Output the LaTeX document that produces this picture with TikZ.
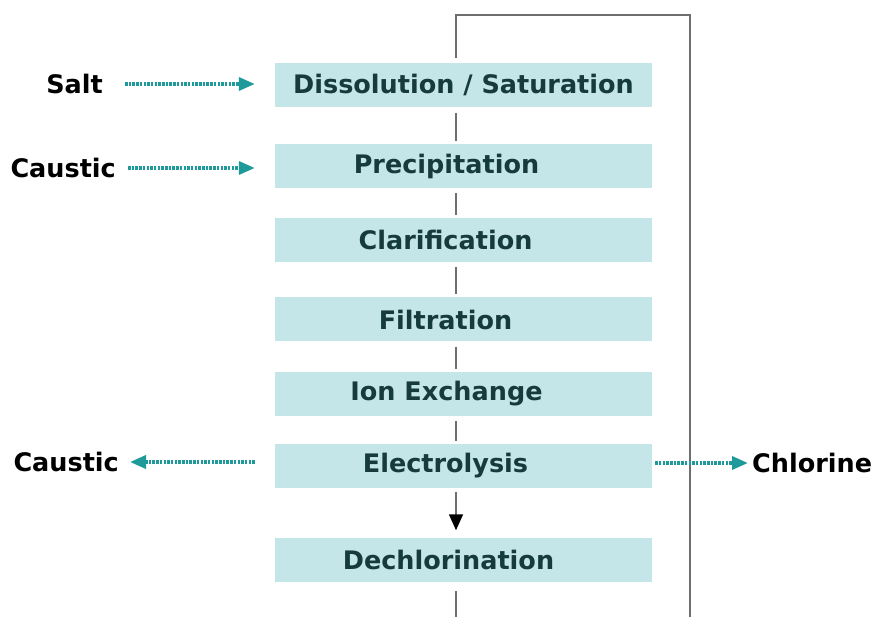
\documentclass[tikz,border=0pt]{standalone}
\usepackage{fontspec}
\setmainfont{DejaVu Sans}
\usepackage{xcolor}
\usetikzlibrary{arrows.meta}
\definecolor{stagefill}{HTML}{C5E6E8}
\definecolor{stagetext}{HTML}{153B3D}
\definecolor{feedteal}{HTML}{1E9A9A}
\definecolor{loopgray}{HTML}{6E6E6E}

\begin{document}
\begin{tikzpicture}[x=1pt,y=-1pt]
          \tikzset{
            StageStyle/.style = { rectangle, fill = stagefill,
              minimum width = 377pt, minimum height = 44pt, inner sep = 0pt,
              text = stagetext, font = \fontsize{25.5}{28}\selectfont\bfseries },
            FeedStyle/.style = { inner sep = 0pt, text = black,
              font = \fontsize{25.5}{28}\selectfont\bfseries },
            FlowStyle/.style = { draw = feedteal, line width = 3.5pt,
              dash pattern = on 2.5pt off 1.2pt,
              -{Triangle[length=16pt, width=13pt]} },
            LoopStyle/.style = { draw = loopgray, line width = 1.5pt } }

          \useasboundingbox (0,0) rectangle (876,617);

          % process stages
          \node[StageStyle] (diss) at (463.5,85.5) {Dissolution / Saturation};
          \node[StageStyle] (prec) at (463.5,166) {Precipitation\hspace*{34pt}};
          \node[StageStyle] (clar) at (463.5,240) {Clarification\hspace*{36pt}};
          \node[StageStyle] (filt) at (463.5,319.5) {Filtration\hspace*{36pt}};
          \node[StageStyle] (ionx) at (463.5,394) {Ion Exchange\hspace*{34pt}};
          \node[StageStyle] (elec) at (463.5,466) {Electrolysis\hspace*{36pt}};
          \node[StageStyle] (dechl) at (463.5,559.5) {Dechlorination\hspace*{30pt}};

          % feeds and products
          \node[FeedStyle, anchor=east] (salt) at (103,84) {Salt};
          \node[FeedStyle, anchor=east] (caustin) at (116,168) {Caustic};
          \node[FeedStyle, anchor=east] (caustout) at (119,462) {Caustic};
          \node[FeedStyle, anchor=west] (chlor) at (752,463) {Chlorine};

          % brine loop
          \coordinate (looptop) at (456,15);
          \coordinate (loopright) at (690,15);
          \coordinate (loopbase) at (690,617.3);
          \coordinate (loopleft) at (456,617.3);
          \draw[LoopStyle, shorten <=5pt, shorten >=9pt] (diss.north -| looptop)
            -- (looptop) -- (loopright) -- (loopbase) -- (loopleft)
            -- (dechl.south -| looptop);
          \foreach \from/\to in {diss/prec, prec/clar, clar/filt, filt/ionx, ionx/elec}
            \draw[LoopStyle, shorten <=5pt, shorten >=3pt]
              (\from.south -| looptop) -- (\to.north -| looptop);
          \draw[LoopStyle, shorten <=4pt, shorten >=7pt,
            -{Triangle[length=16pt, width=14pt, black]}]
            (elec.south -| looptop) -- (dechl.north -| looptop);

          \draw[FlowStyle, shorten <=22pt, shorten >=20pt] (salt.east) -- (salt.east -| diss.west);
          \draw[FlowStyle, shorten <=12pt, shorten >=20pt] (caustin.east) -- (caustin.east -| prec.west);
          \draw[FlowStyle, shorten <=20pt, shorten >=11pt] (caustout.east -| elec.west) -- (caustout.east);
          \draw[FlowStyle, shorten <=3pt, shorten >=4pt] (chlor.west -| elec.east) -- (chlor.west);
\end{tikzpicture}
\end{document}
